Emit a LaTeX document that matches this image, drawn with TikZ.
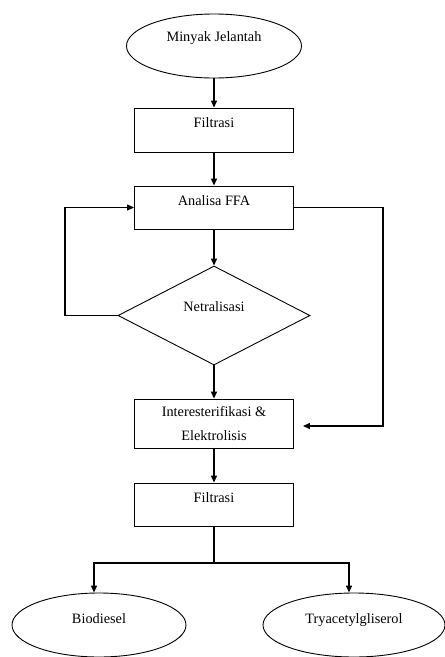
\documentclass[tikz,border=0pt]{standalone}
\usepackage{fontspec}
\setmainfont{Liberation Serif}
\usetikzlibrary{arrows.meta}
\usetikzlibrary{calc}
\usetikzlibrary{shapes.geometric}

\tikzset{
  termbox/.style={draw,ellipse,line width=0.9pt,minimum width=175pt,minimum height=64pt,
    inner sep=0pt,text height=10pt,text depth=18.6pt},
  procbox/.style={draw,rectangle,line width=0.9pt,minimum width=159pt,inner sep=0pt},
  onerow/.style={text height=19pt,text depth=24pt},
  decbox/.style={draw,diamond,line width=0.9pt,minimum width=192pt,minimum height=99pt,
    inner sep=0pt,text height=10pt,text depth=18pt},
  link/.style={draw,line width=1.3pt},
  flow/.style={link,->,>={Triangle[length=7pt,width=6pt]}},
}

\begin{document}
\begin{tikzpicture}[x=1pt,y=-1pt,font=\fontsize{14.3}{17}\selectfont]

  \useasboundingbox (0,0) rectangle (445,657);

  \node [termbox] (minyak) at (214,46) {Minyak Jelantah};
  \node [procbox,onerow,text depth=25pt] (filt1) at (214,130) {Filtrasi};
  \node [procbox,onerow] (ffa) at (214,207.5) {Analisa FFA};
  \node [decbox] (netral) at (214,315.5) {Netralisasi};
  \node [procbox,minimum height=49pt,align=center,font=\fontsize{14.3}{24}\selectfont]
    (inter) at (214,423.5) {Interesterifikasi \&\\Elektrolisis};
  \node [procbox,onerow] (filt2) at (214,504.5) {Filtrasi};
  \node [termbox,minimum width=174pt,text depth=12.6pt] (bio) at (99,625) {Biodiesel};
  \node [termbox,minimum width=182pt,text depth=12.6pt] (trya) at (354,625) {Tryacetylgliserol};

  \coordinate (loopL)   at (65,315.5);
  \coordinate (rcorner) at (383,426);
  \coordinate (split)   at (214,563);
  \coordinate (brL)     at (94,563);
  \coordinate (brR)     at (349,563);

  \path [every edge/.style={flow}]
    (minyak) edge (filt1)
    (filt1)  edge (ffa)
    (ffa)    edge (netral)
    (netral) edge (inter)
    (inter)  edge (filt2);

  % loop back and bypass
  \draw [flow] (netral.west) -- (loopL) |- (ffa.west);
  \draw [flow,shorten >=9pt] (ffa.east) -| (rcorner) -- (rcorner -| inter.east);

  % split to products
  \draw [link] (filt2) -- (split);
  \draw [flow] (split) -- (brL) -- (brL |- bio.north);
  \draw [flow] (split) -- (brR) -- (brR |- trya.north);

\end{tikzpicture}
\end{document}
